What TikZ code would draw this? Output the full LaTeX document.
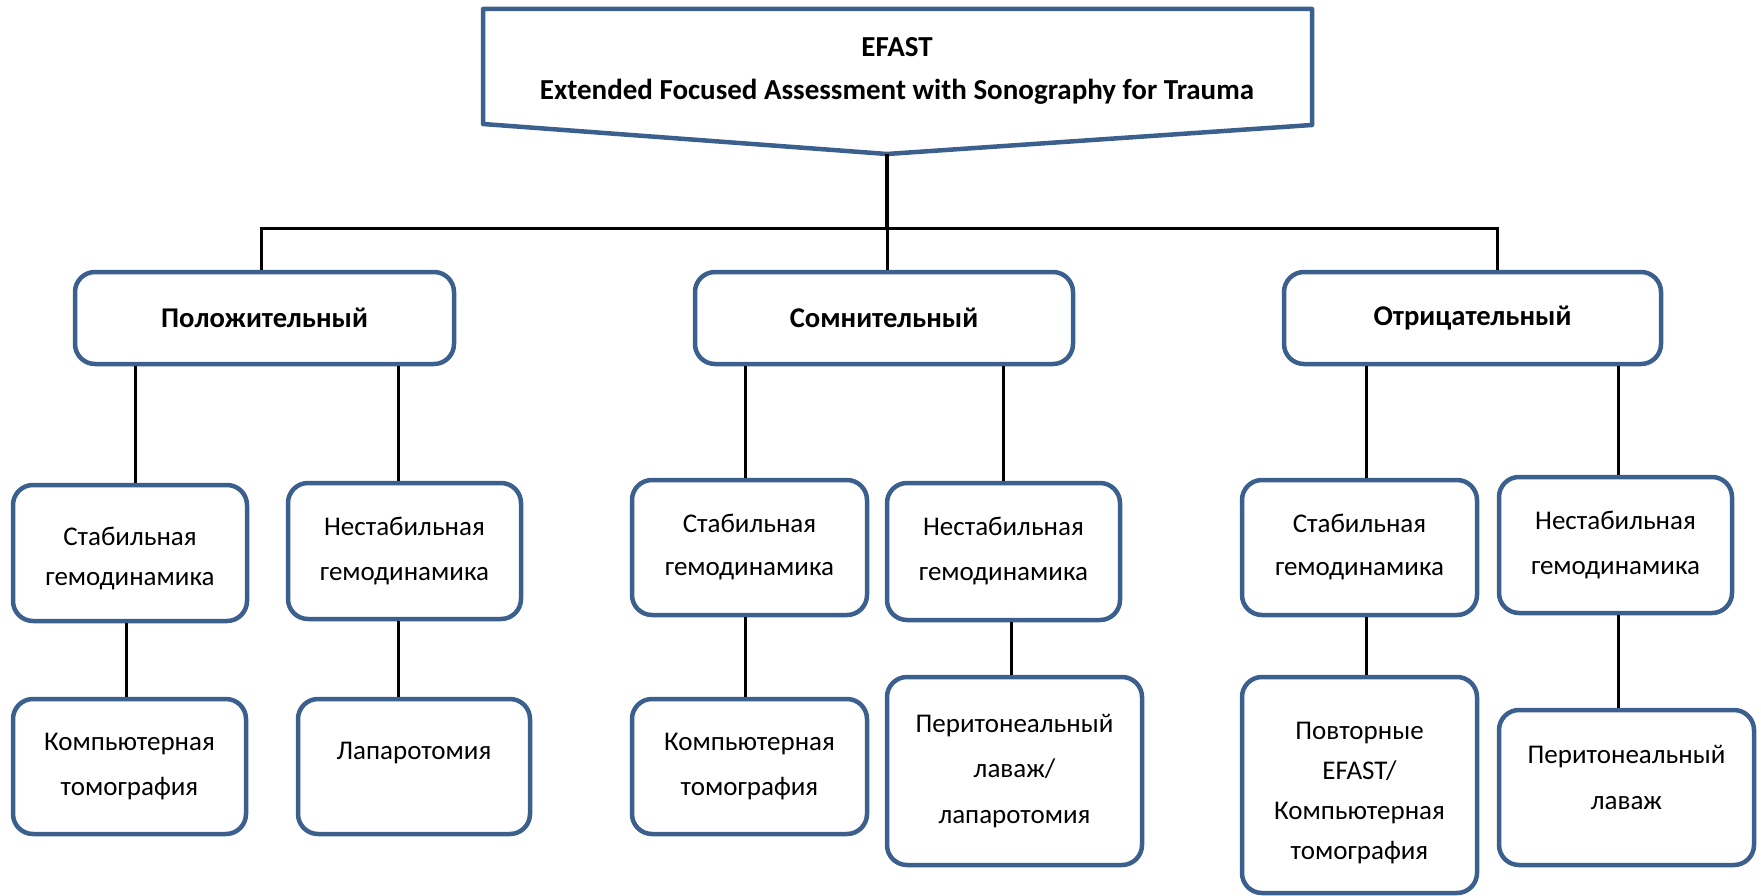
\documentclass[tikz,border=0pt]{standalone}
\usepackage{fontspec}
\setmainfont{Carlito}
\usetikzlibrary{calc}
\definecolor{boxblue}{RGB}{59,96,142}
\tikzset{
  box/.style={draw=boxblue, line width=4.5pt, rounded corners=20pt, fill=white,
    align=center, inner sep=0pt, font=\fontsize{27pt}{40pt}\selectfont},
  ls/.style={font=\fontsize{27pt}{#1pt}\selectfont},
  headbox/.style={box, font=\bfseries\fontsize{28.6pt}{40pt}\selectfont},
  conn/.style={draw=black, line width=3pt},
  topconn/.style={draw=black, line width=4pt},
  wh/.style 2 args={minimum width=#1pt, minimum height=#2pt},
}
\begin{document}
\begin{tikzpicture}[x=1pt,y=-1pt]
\useasboundingbox (0,0) rectangle (1761,896);
% top pentagon
\coordinate (tl) at (483,9);
\coordinate (tr) at (1312,9);
\coordinate (br) at (1312,125);
\coordinate (tip) at (887,154);
\coordinate (bl) at (483,124);
\draw[draw=boxblue, line width=4.5pt, line join=round, fill=white] (tl) -- (tr) -- (br) -- (tip) -- (bl) -- cycle;
\node[align=center, font=\bfseries\fontsize{29pt}{43pt}\selectfont] (efast) at (897,71)
  {EFAST\\Extended Focused Assessment with Sonography for Trauma};

% level 1
\node[headbox, wh={379}{92}] (pos) at (264.5,318) {Положительный};
\node[headbox, wh={378}{92}] (som) at (884,318) {Сомнительный};
\node[headbox, wh={377}{92}] (neg) at (1472.5,318) {Отрицательный};

% level 2
\node[box, ls=40, wh={234}{136}] (l1) at (130,553) {\rule{0pt}{29pt}Стабильная\\гемодинамика};
\node[box, ls=45, wh={233}{136}] (l2) at (404.5,551) {Нестабильная\\гемодинамика};
\node[box, ls=43, wh={235}{135}] (m1) at (749.5,547.5) {Стабильная\\гемодинамика};
\node[box, ls=45, wh={233}{137}] (m2) at (1003.5,551.5) {Нестабильная\\гемодинамика};
\node[box, ls=43, wh={235}{135}] (r1) at (1359.5,547.5) {Стабильная\\гемодинамика};
\node[box, ls=45, wh={233}{136}] (r2) at (1615.5,545) {Нестабильная\\гемодинамика};

% level 3
\node[box, ls=45, wh={233}{135}] (l1b) at (129.5,766.5) {Компьютерная\\томография};
\node[box, wh={232}{135}, text depth=31pt] (l2b) at (414,766.5) {Лапаротомия};
\node[box, ls=45, wh={235}{135}] (m1b) at (749.5,766.5) {Компьютерная\\томография};
\node[box, ls=45.5, wh={255}{188}] (m2b) at (1014.5,771) {Перитонеальный\\лаваж/\\лапаротомия};
\node[box, ls=40, wh={235}{216}] (r1b) at (1359.5,785) {\rule{0pt}{34pt}Повторные\\EFAST/\\Компьютерная\\томография};
\node[box, ls=46, wh={255}{155}, text depth=20pt] (r2b) at (1626.5,787.5) {Перитонеальный\\лаваж};

% x positions of connectors
\coordinate (bus) at (887,228);
\coordinate (xp) at (261,0);
\coordinate (xn) at (1497,0);
\coordinate (xa) at (135,0);
\coordinate (xb) at (398,0);
\coordinate (xc) at (745,0);
\coordinate (xd) at (1003,0);
\coordinate (xe) at (1366,0);
\coordinate (xf) at (1618,0);
\coordinate (xg) at (126,0);
\coordinate (xh) at (1011,0);

% bus
\draw[topconn] (tip) -- (bus);
\draw[conn] (pos.north -| xp) -- (bus -| xp) -- (bus -| xn) -- (neg.north -| xn);
\draw[conn] (bus) -- (som.north -| bus);

% level 1 -> 2
\draw[conn] (pos.south -| xa) -- (l1.north -| xa);
\draw[conn] (pos.south -| xb) -- (l2.north -| xb);
\draw[conn] (som.south -| xc) -- (m1.north -| xc);
\draw[conn] (som.south -| xd) -- (m2.north -| xd);
\draw[conn] (neg.south -| xe) -- (r1.north -| xe);
\draw[conn] (neg.south -| xf) -- (r2.north -| xf);

% level 2 -> 3
\draw[conn] (l1.south -| xg) -- (l1b.north -| xg);
\draw[conn] (l2.south -| xb) -- (l2b.north -| xb);
\draw[conn] (m1.south -| xc) -- (m1b.north -| xc);
\draw[conn] (m2.south -| xh) -- (m2b.north -| xh);
\draw[conn] (r1.south -| xe) -- (r1b.north -| xe);
\draw[conn] (r2.south -| xf) -- (r2b.north -| xf);
\end{tikzpicture}
\end{document}
